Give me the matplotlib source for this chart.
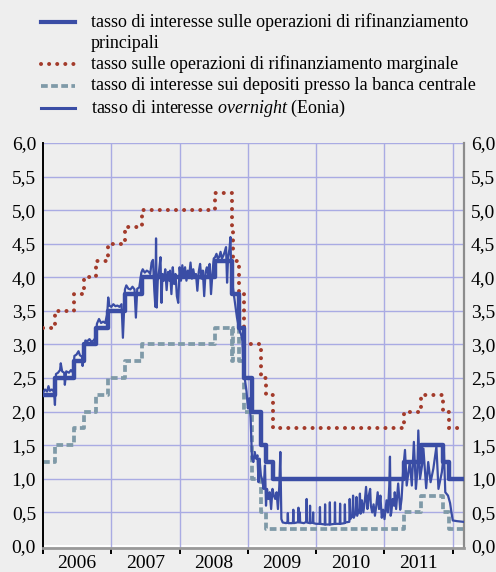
import matplotlib
matplotlib.use("Agg")
import matplotlib.pyplot as plt
from matplotlib.lines import Line2D

# ---------------- data (decimal years) ----------------
# policy-rate change dates
change_dates = [2006.000, 2006.181, 2006.452, 2006.603, 2006.775, 2006.948,
                2007.197, 2007.447, 2008.519, 2008.770, 2008.787, 2008.863,
                2008.940, 2009.055, 2009.189, 2009.266, 2009.362, 2011.279,
                2011.529, 2011.855, 2011.951, 2012.164]
mro_rate = [2.25, 2.50, 2.75, 3.00, 3.25, 3.50, 3.75, 4.00, 4.25, 3.75, 3.75,
            3.25, 2.50, 2.00, 1.50, 1.25, 1.00, 1.25, 1.50, 1.25, 1.00, 1.00]
marginal_rate = [3.25, 3.50, 3.75, 4.00, 4.25, 4.50, 4.75, 5.00, 5.25, 4.75, 4.25,
                 3.75, 3.00, 3.00, 2.50, 2.25, 1.75, 2.00, 2.25, 2.00, 1.75, 1.75]
deposit_rate = [1.25, 1.50, 1.75, 2.00, 2.25, 2.50, 2.75, 3.00, 3.25, 2.75, 3.25,
                2.75, 2.00, 1.00, 0.50, 0.25, 0.25, 0.50, 0.75, 0.50, 0.25, 0.25]

# overnight rate (Eonia)
eonia = [
    (2006.00, 2.28), (2006.03, 2.33), (2006.06, 2.30), (2006.08, 2.38), (2006.10, 2.31),
    (2006.13, 2.33), (2006.16, 2.30), (2006.175, 2.10), (2006.19, 2.56), (2006.22, 2.58),
    (2006.25, 2.62), (2006.26, 2.72), (2006.28, 2.60), (2006.31, 2.58), (2006.32, 2.40),
    (2006.34, 2.60), (2006.38, 2.58), (2006.41, 2.62), (2006.44, 2.58), (2006.46, 2.83),
    (2006.49, 2.85), (2006.52, 2.90), (2006.54, 2.84), (2006.57, 2.82), (2006.58, 2.68),
    (2006.60, 2.85), (2006.62, 3.06), (2006.65, 3.05), (2006.68, 3.08), (2006.71, 3.04),
    (2006.74, 3.06), (2006.77, 3.10), (2006.79, 3.31), (2006.82, 3.38), (2006.85, 3.32),
    (2006.88, 3.34), (2006.91, 3.32), (2006.94, 3.45), (2006.955, 3.70), (2006.97, 3.58),
    (2007.00, 3.56), (2007.03, 3.60), (2007.06, 3.57), (2007.09, 3.58), (2007.12, 3.56),
    (2007.15, 3.60), (2007.17, 3.10), (2007.19, 3.58), (2007.20, 3.82), (2007.22, 3.88),
    (2007.25, 3.83), (2007.28, 3.82), (2007.31, 3.86), (2007.34, 3.82), (2007.36, 3.40),
    (2007.38, 3.83), (2007.41, 3.85), (2007.44, 4.07), (2007.46, 4.12), (2007.49, 4.07),
    (2007.52, 4.10), (2007.55, 4.08), (2007.57, 4.05), (2007.59, 4.22), (2007.61, 4.26),
    (2007.63, 3.80), (2007.645, 3.56), (2007.655, 4.58), (2007.665, 3.55), (2007.68, 3.95),
    (2007.70, 4.10), (2007.72, 4.30), (2007.735, 3.62), (2007.75, 4.05), (2007.77, 3.95),
    (2007.79, 4.12), (2007.81, 3.81), (2007.83, 4.08), (2007.85, 3.95), (2007.86, 4.10),
    (2007.88, 3.75), (2007.90, 4.15), (2007.92, 3.90), (2007.94, 4.05), (2007.96, 3.72),
    (2007.98, 3.62), (2008.00, 4.15), (2008.02, 3.95), (2008.04, 4.18), (2008.06, 4.00),
    (2008.08, 4.15), (2008.10, 3.95), (2008.12, 4.10), (2008.14, 4.02), (2008.16, 4.22),
    (2008.18, 3.98), (2008.20, 4.12), (2008.22, 4.00), (2008.24, 4.05), (2008.26, 3.80),
    (2008.28, 4.08), (2008.30, 4.20), (2008.32, 3.98), (2008.34, 4.10), (2008.36, 3.72),
    (2008.38, 4.08), (2008.40, 4.15), (2008.42, 4.02), (2008.44, 4.20), (2008.46, 3.75),
    (2008.48, 4.05), (2008.50, 4.28), (2008.52, 4.30), (2008.54, 4.35), (2008.56, 4.28),
    (2008.58, 4.30), (2008.60, 4.38), (2008.62, 4.28), (2008.64, 4.32), (2008.66, 4.38),
    (2008.68, 4.45), (2008.695, 3.92), (2008.71, 4.30), (2008.73, 4.42), (2008.745, 4.60),
    (2008.76, 3.80), (2008.78, 3.85), (2008.80, 3.70), (2008.82, 3.55), (2008.84, 3.40),
    (2008.86, 3.30), (2008.88, 3.20), (2008.90, 3.15), (2008.92, 3.05), (2008.94, 2.55),
    (2008.96, 2.45), (2008.98, 2.30), (2009.00, 2.05), (2009.02, 2.20), (2009.04, 1.90),
    (2009.06, 1.30), (2009.08, 1.25), (2009.10, 1.40), (2009.12, 1.30), (2009.14, 1.35),
    (2009.155, 0.95), (2009.17, 1.30), (2009.19, 1.05), (2009.21, 0.98), (2009.23, 0.85),
    (2009.25, 1.20), (2009.265, 0.60), (2009.28, 0.85), (2009.30, 0.70), (2009.32, 0.80),
    (2009.34, 0.55), (2009.36, 0.85), (2009.38, 0.75), (2009.40, 0.70), (2009.42, 0.80),
    (2009.44, 0.55), (2009.46, 0.90), (2009.475, 1.40), (2009.49, 0.40), (2009.51, 0.35),
    (2009.56, 0.34), (2009.58, 0.36), (2009.585, 0.49), (2009.59, 0.34), (2009.65, 0.34),
    (2009.66, 0.36), (2009.665, 0.54), (2009.67, 0.34), (2009.72, 0.35), (2009.735, 0.36),
    (2009.74, 0.57), (2009.745, 0.35), (2009.755, 0.36), (2009.76, 0.50), (2009.765, 0.35),
    (2009.82, 0.34), (2009.855, 0.36), (2009.86, 0.70), (2009.865, 0.35), (2009.905, 0.34),
    (2009.91, 0.60), (2009.915, 0.34), (2009.95, 0.35), (2009.955, 0.50), (2009.96, 0.34),
    (2010.00, 0.33), (2010.05, 0.33), (2010.055, 0.58), (2010.06, 0.33), (2010.125, 0.32),
    (2010.13, 0.62), (2010.135, 0.32), (2010.195, 0.32), (2010.20, 0.65), (2010.205, 0.32),
    (2010.27, 0.33), (2010.275, 0.65), (2010.28, 0.33), (2010.345, 0.33), (2010.35, 0.63),
    (2010.355, 0.33), (2010.415, 0.34), (2010.42, 0.62), (2010.425, 0.35), (2010.485, 0.36),
    (2010.49, 0.70), (2010.50, 0.40), (2010.53, 0.45), (2010.54, 0.75), (2010.55, 0.42),
    (2010.58, 0.50), (2010.59, 0.73), (2010.60, 0.45), (2010.63, 0.55), (2010.64, 0.78),
    (2010.65, 0.48), (2010.67, 0.68), (2010.69, 0.50), (2010.71, 0.65), (2010.73, 0.88),
    (2010.75, 0.55), (2010.77, 0.75), (2010.79, 0.85), (2010.80, 0.60), (2010.82, 0.50),
    (2010.84, 0.62), (2010.86, 0.45), (2010.88, 0.60), (2010.90, 0.80), (2010.92, 0.55),
    (2010.94, 0.75), (2010.96, 0.42), (2010.98, 0.54), (2011.00, 0.40), (2011.03, 0.68),
    (2011.05, 0.50), (2011.07, 0.90), (2011.08, 1.33), (2011.09, 0.45), (2011.10, 0.50),
    (2011.12, 0.70), (2011.14, 0.60), (2011.15, 0.80), (2011.17, 0.55), (2011.20, 0.93),
    (2011.23, 0.54), (2011.25, 0.70), (2011.275, 1.15), (2011.30, 1.43), (2011.325, 0.90),
    (2011.35, 1.10), (2011.37, 1.25), (2011.40, 0.90), (2011.43, 1.55), (2011.46, 0.85),
    (2011.48, 1.10), (2011.495, 1.72), (2011.52, 1.00), (2011.55, 1.20), (2011.57, 1.45),
    (2011.61, 0.86), (2011.64, 1.25), (2011.675, 0.95), (2011.715, 1.15), (2011.76, 1.48),
    (2011.79, 0.85), (2011.82, 1.00), (2011.84, 1.10), (2011.87, 1.40), (2011.89, 0.80),
    (2011.93, 0.75), (2011.96, 0.64), (2011.98, 0.50), (2012.00, 0.38), (2012.06, 0.37),
    (2012.15, 0.36),
]
eonia_x = [p[0] for p in eonia]
eonia_y = [p[1] for p in eonia]

years = [2006, 2007, 2008, 2009, 2010, 2011, 2012]
year_labels = ["2006", "2007", "2008", "2009", "2010", "2011"]
y_ticks = [0.0, 0.5, 1.0, 1.5, 2.0, 2.5, 3.0, 3.5, 4.0, 4.5, 5.0, 5.5, 6.0]
y_labels = [f"{v:.1f}".replace(".", ",") for v in y_ticks]

legend_first = "tasso di interesse sulle operazioni di rifinanziamento"
legend_first_cont = "principali"
legend_others = [
    "tasso sulle operazioni di rifinanziamento marginale",
    "tasso di interesse sui depositi presso la banca centrale",
    "tasso di interesse $\\it{overnight}$ (Eonia)",
]

# ---------------- style ----------------
BG = "#eeeeee"
BLUE = "#3a4da5"
RED = "#a33b2b"
GREY_BLUE = "#7f9aa8"
GRID = "#a9abe3"
FONT = "Liberation Serif"
plt.rcParams["font.family"] = [FONT, "DejaVu Serif"]
plt.rcParams["mathtext.fontset"] = "custom"
plt.rcParams["mathtext.it"] = "Liberation Serif:italic"
plt.rcParams["mathtext.rm"] = "Liberation Serif"

W, H = 496, 572
fig = plt.figure(figsize=(W / 100, H / 100), dpi=100, facecolor=BG)

ax_l, ax_r, ax_t, ax_b = 43, 464, 143, 548
ax = fig.add_axes([ax_l / W, 1 - ax_b / H, (ax_r - ax_l) / W, (ax_b - ax_t) / H])
ax.set_facecolor(BG)

ax.set_xlim(2006.0, 2012.164)
ax.set_ylim(-0.03, 6.0)

# grid
for v in y_ticks[1:]:
    ax.axhline(v, color=GRID, lw=1.0, zorder=1)
ax.axhline(0.0, color="white", lw=1.5, zorder=1)
for yr in years[1:]:
    ax.axvline(yr, color=GRID, lw=1.0, zorder=1)

# series
ax.step(change_dates, deposit_rate, where="post", color=GREY_BLUE,
        lw=2.7, linestyle=(0, (1.8, 0.9)), zorder=2)
ax.step(change_dates, marginal_rate, where="post", color=RED,
        lw=2.9, linestyle=(0, (0.01, 2.0)), dash_capstyle="round", zorder=3)
ax.step(change_dates, mro_rate, where="post", color=BLUE, lw=3.2, zorder=4)
ax.plot(eonia_x, eonia_y, color=BLUE, lw=1.6, zorder=5)

# axes decoration
ax.spines["top"].set_visible(False)
ax.spines["left"].set_color("black")
ax.spines["left"].set_linewidth(1.4)
ax.spines["right"].set_color("#8c8c8c")
ax.spines["right"].set_linewidth(1.6)
ax.spines["bottom"].set_color("#999999")
ax.spines["bottom"].set_linewidth(2.0)

ax.set_yticks(y_ticks)
ax.set_yticklabels(y_labels)
ax.tick_params(axis="y", length=0, labelsize=14, pad=5, left=True, right=True,
               labelleft=True, labelright=True)

ax.set_xticks(years)
ax.set_xticklabels([])
ax.tick_params(axis="x", which="major", length=4, width=1.4, color="black", direction="out")
ax.set_xticks([y + 0.5 for y in years[:-1]], minor=True)
ax.set_xticklabels(year_labels, minor=True)
ax.tick_params(axis="x", which="minor", length=0, labelsize=14, pad=5)

# legend (drawn manually in pixel coordinates of the figure)
lg = fig.add_axes([0, 0, 1, 1], facecolor="none")
lg.set_xlim(0, W)
lg.set_ylim(H, 0)
lg.axis("off")
handles = [
    dict(color=BLUE, lw=3.0),
    dict(color=RED, lw=2.9, linestyle=(0, (0.01, 2.0)), dash_capstyle="round"),
    dict(color=GREY_BLUE, lw=2.7, linestyle=(0, (1.8, 0.9))),
    dict(color=BLUE, lw=2.2),
]
rows_y = [22, 64, 86, 108]
for kw, yy in zip(handles, rows_y):
    lg.add_line(Line2D([41, 75], [yy, yy], **kw))
LFS = 13
lg.text(91, 22, legend_first, fontsize=LFS, va="center", ha="left")
lg.text(91, 43, legend_first_cont, fontsize=LFS, va="center", ha="left")
for yy, lab in zip(rows_y[1:], legend_others):
    lg.text(91, yy, lab, fontsize=LFS, va="center", ha="left")

fig.savefig("out.png", dpi=100, facecolor=BG)
